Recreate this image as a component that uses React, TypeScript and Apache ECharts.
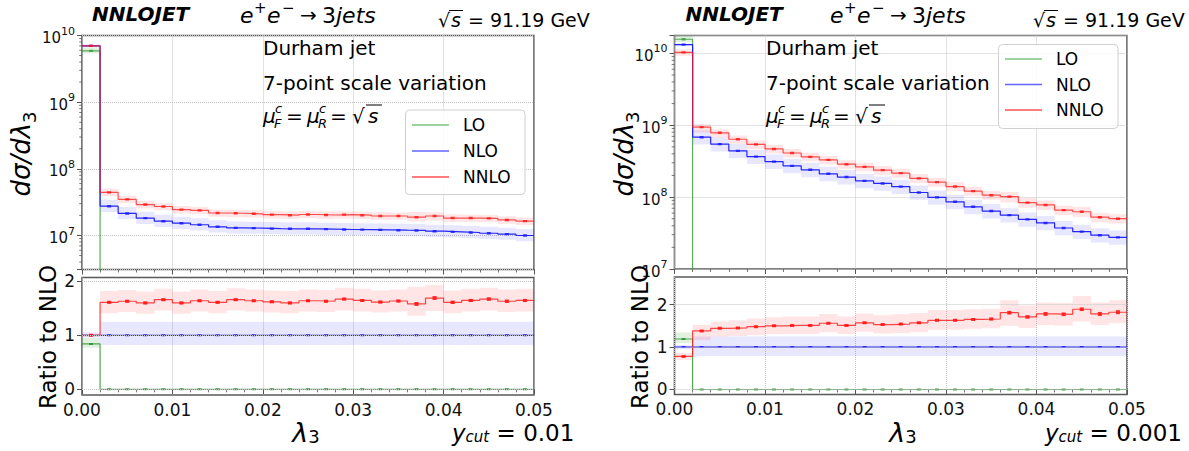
import React, { useEffect, useRef } from "react";
import * as echarts from "echarts";

const FONT = "DejaVu Sans";

// ---------- shared axes / bins ----------
const binEdges = [
  0, 0.002, 0.004, 0.006, 0.008, 0.01, 0.012, 0.014, 0.016, 0.018, 0.02, 0.022, 0.024,
  0.026, 0.028, 0.03, 0.032, 0.034, 0.036, 0.038, 0.04, 0.042, 0.044, 0.046, 0.048, 0.05,
];
const xTickLabels = ["0.00", "0.01", "0.02", "0.03", "0.04", "0.05"];
const ratioTicks = [0, 1, 2];
const logMinorMultipliers = [2, 3, 4, 5, 6, 7, 8, 9];
const logDecades = [6, 7, 8, 9, 10];
const legendLabels = ["LO", "NLO", "NNLO"];

// ---------- left panel: y_cut = 0.01 ----------
const nloL = [
  7.0e9, 2.75e7, 2.14e7, 1.82e7, 1.64e7, 1.53e7, 1.45e7, 1.35e7, 1.3e7, 1.29e7, 1.27e7, 1.26e7,
  1.26e7, 1.245e7, 1.23e7, 1.225e7, 1.215e7, 1.2e7, 1.19e7, 1.16e7, 1.135e7, 1.11e7, 1.08e7,
  1.05e7, 1.0e7,
];
const nloBandLoL = [0.96, 0.82, 0.82, 0.82, 0.82, 0.82, 0.82, 0.82, 0.82, 0.82, 0.82, 0.82, 0.82, 0.82, 0.82, 0.82, 0.82, 0.82, 0.82, 0.82, 0.82, 0.82, 0.82, 0.82, 0.82];
const nloBandHiL = [1.05, 1.25, 1.25, 1.25, 1.25, 1.25, 1.25, 1.25, 1.25, 1.25, 1.25, 1.25, 1.25, 1.25, 1.25, 1.25, 1.25, 1.25, 1.25, 1.25, 1.25, 1.25, 1.25, 1.25, 1.25];
const nnloRatioL = [
  1.0, 1.61, 1.63, 1.6, 1.66, 1.6, 1.64, 1.61, 1.66, 1.64, 1.62, 1.6, 1.64, 1.63, 1.67, 1.645,
  1.615, 1.635, 1.58, 1.69, 1.61, 1.645, 1.67, 1.63, 1.645,
];
const nnloBandHiL = [
  1.03, 1.82, 1.84, 1.81, 1.86, 1.81, 1.85, 1.82, 1.87, 1.85, 1.83, 1.82, 1.85, 1.84, 1.88, 1.86,
  1.83, 1.85, 1.9, 1.93, 1.83, 1.86, 1.88, 1.85, 1.86,
];
const nnloBandLoL = [
  0.97, 1.41, 1.43, 1.4, 1.46, 1.4, 1.44, 1.41, 1.46, 1.44, 1.42, 1.41, 1.44, 1.43, 1.46, 1.44,
  1.42, 1.44, 1.36, 1.45, 1.41, 1.44, 1.46, 1.43, 1.44,
];
const nnloErrL = [
  0.005, 0.015, 0.015, 0.015, 0.015, 0.015, 0.015, 0.015, 0.015, 0.015, 0.015, 0.015, 0.015,
  0.015, 0.015, 0.015, 0.015, 0.015, 0.025, 0.025, 0.02, 0.02, 0.02, 0.02, 0.02,
];
const loRatioL = [0.84, 0, 0, 0, 0, 0, 0, 0, 0, 0, 0, 0, 0, 0, 0, 0, 0, 0, 0, 0, 0, 0, 0, 0, 0];
const loBandLoL = [0.77];
const loBandHiL = [0.95];

// ---------- right panel: y_cut = 0.001 ----------
const nloR = [
  1.32e10, 6.81e8, 5.45e8, 4.4e8, 3.66e8, 3.12e8, 2.72e8, 2.4e8, 2.11e8, 1.9e8, 1.68e8, 1.55e8,
  1.4e8, 1.16e8, 9.9e7, 8.6e7, 7.33e7, 6.4e7, 5.62e7, 4.9e7, 4.37e7, 3.72e7, 3.31e7, 2.95e7,
  2.75e7,
];
const nloBandLoR = [0.95, 0.79, 0.79, 0.79, 0.79, 0.79, 0.79, 0.79, 0.79, 0.79, 0.79, 0.79, 0.79, 0.79, 0.79, 0.79, 0.79, 0.79, 0.79, 0.79, 0.79, 0.79, 0.79, 0.79, 0.79];
const nloBandHiR = [1.05, 1.25, 1.25, 1.25, 1.25, 1.25, 1.25, 1.25, 1.25, 1.25, 1.25, 1.25, 1.25, 1.25, 1.25, 1.25, 1.25, 1.25, 1.25, 1.25, 1.25, 1.25, 1.25, 1.25, 1.25];
const nnloRatioR = [
  0.78, 1.38, 1.44, 1.45, 1.48, 1.5, 1.51, 1.51, 1.56, 1.51, 1.57, 1.53, 1.54, 1.57, 1.63, 1.63,
  1.65, 1.66, 1.81, 1.71, 1.78, 1.77, 1.89, 1.78, 1.82,
];
const nnloBandHiR = [
  0.86, 1.52, 1.6, 1.63, 1.67, 1.7, 1.72, 1.72, 1.78, 1.72, 1.79, 1.75, 1.77, 1.8, 1.87, 1.87,
  1.89, 1.9, 2.1, 1.98, 2.05, 2.04, 2.2, 2.05, 2.1,
];
const nnloBandLoR = [
  0.7, 1.16, 1.25, 1.26, 1.28, 1.3, 1.31, 1.31, 1.35, 1.31, 1.36, 1.32, 1.33, 1.35, 1.41, 1.41,
  1.43, 1.44, 1.5, 1.45, 1.52, 1.51, 1.6, 1.52, 1.56,
];
const nnloErrR = [
  0.005, 0.01, 0.01, 0.01, 0.01, 0.01, 0.01, 0.01, 0.012, 0.012, 0.012, 0.012, 0.012, 0.015,
  0.015, 0.015, 0.015, 0.018, 0.03, 0.025, 0.03, 0.03, 0.03, 0.035, 0.035,
];
const loRatioR = [1.19, 0, 0, 0, 0, 0, 0, 0, 0, 0, 0, 0, 0, 0, 0, 0, 0, 0, 0, 0, 0, 0, 0, 0, 0];
const loBandLoR = [1.09];
const loBandHiR = [1.34];

// ---------- styling ----------
const COL = {
  lo: "#3f9f3f",
  nlo: "#1a1aff",
  nnlo: "#ff1a1a",
  loBand: "rgba(0,140,0,0.12)",
  nloBand: "rgba(40,40,255,0.11)",
  nnloBand: "rgba(255,40,40,0.12)",
  legLo: "#7cc47c",
  legNlo: "#6464ff",
  legNnlo: "#ff5050",
  frame: "#5a5a5a",
  tick: "#555",
  grid: "#c4c4c4",
  text: "#111",
};

const panels = [
  {
    gTop: 0,
    grids: [
      { left: 82, top: 35.5, width: 452, height: 234 },
      { left: 82, top: 277.5, width: 452, height: 117.5 },
    ],
    yMin: Math.pow(10, 6.49),
    yMax: 1e10,
    rMin: -0.105,
    rMax: 2.07,
    nlo: nloL, nloBandLo: nloBandLoL, nloBandHi: nloBandHiL,
    nnloRatio: nnloRatioL, nnloBandLo: nnloBandLoL, nnloBandHi: nnloBandHiL, nnloErr: nnloErrL,
    loRatio: loRatioL, loBandLo: loBandLoL, loBandHi: loBandHiL,
  },
  {
    gTop: 2,
    grids: [
      { left: 674.5, top: 35.5, width: 452.5, height: 233.5 },
      { left: 674.5, top: 277, width: 452.5, height: 117.5 },
    ],
    yMin: 1e7,
    yMax: Math.pow(10, 10.248),
    rMin: -0.118,
    rMax: 2.65,
    nlo: nloR, nloBandLo: nloBandLoR, nloBandHi: nloBandHiR,
    nnloRatio: nnloRatioR, nnloBandLo: nnloBandLoR, nnloBandHi: nnloBandHiR, nnloErr: nnloErrR,
    loRatio: loRatioR, loBandLo: loBandLoR, loBandHi: loBandHiR,
  },
];

// ---------- helpers ----------
const stepData = (vals: number[]) => {
  const pts = vals.map((v, i) => [binEdges[i], v]);
  pts.push([binEdges[vals.length], vals[vals.length - 1]]);
  return pts;
};
const center = (i: number) => (binEdges[i] + binEdges[i + 1]) / 2;

const bandSeries = (g: number, items: number[][], fill: string) => ({
  type: "custom",
  xAxisIndex: g,
  yAxisIndex: g,
  clip: true,
  silent: true,
  z: 1,
  encode: { x: [0, 1], y: [2, 3] },
  data: items,
  renderItem: (_p: any, api: any) => {
    const a = api.coord([api.value(0), api.value(3)]);
    const b = api.coord([api.value(1), api.value(2)]);
    return {
      type: "rect",
      shape: { x: a[0], y: a[1], width: b[0] - a[0], height: b[1] - a[1] },
      style: { fill },
    };
  },
});

const lineSeries = (g: number, name: string, vals: number[], color: string, opacity = 1) => ({
  type: "line",
  name,
  xAxisIndex: g,
  yAxisIndex: g,
  step: "end",
  symbol: "none",
  silent: true,
  clip: true,
  z: 2,
  lineStyle: { color, width: 1.2, opacity },
  data: stepData(vals),
});

const markerSeries = (g: number, items: number[][], color: string, w: number, h: number) => ({
  type: "custom",
  xAxisIndex: g,
  yAxisIndex: g,
  clip: true,
  silent: true,
  z: 3,
  encode: { x: 0, y: 1 },
  data: items,
  renderItem: (_p: any, api: any) => {
    const x = api.value(0);
    const y = api.value(1);
    const e = api.value(2);
    const p = api.coord([x, y]);
    const children: any[] = [
      { type: "rect", shape: { x: p[0] - w / 2, y: p[1] - h / 2, width: w, height: h }, style: { fill: color, opacity: 0.85 } },
    ];
    if (e > 0) {
      const pt = api.coord([x, y + e]);
      const pb = api.coord([x, y - e]);
      children.push(
        { type: "line", shape: { x1: p[0], y1: pt[1], x2: p[0], y2: pb[1] }, style: { stroke: color, lineWidth: 1, opacity: 0.85 } },
        { type: "line", shape: { x1: p[0] - 2, y1: pt[1], x2: p[0] + 2, y2: pt[1] }, style: { stroke: color, lineWidth: 1, opacity: 0.85 } },
        { type: "line", shape: { x1: p[0] - 2, y1: pb[1], x2: p[0] + 2, y2: pb[1] }, style: { stroke: color, lineWidth: 1, opacity: 0.85 } }
      );
    }
    return { type: "group", children };
  },
});

const minorLogSeries = (g: number, yMin: number, yMax: number) => {
  const vals: number[][] = [];
  logDecades.forEach((d) =>
    logMinorMultipliers.forEach((m) => {
      const v = m * Math.pow(10, d);
      if (v > yMin && v < yMax) vals.push([0, v]);
    })
  );
  return {
    type: "custom",
    xAxisIndex: g,
    yAxisIndex: g,
    clip: false,
    silent: true,
    z: 4,
    encode: { x: 0, y: 1 },
    data: vals,
    renderItem: (_p: any, api: any) => {
      const p = api.coord([api.value(0), api.value(1)]);
      return {
        type: "line",
        shape: { x1: p[0] - 2.8, y1: p[1], x2: p[0], y2: p[1] },
        style: { stroke: COL.tick, lineWidth: 0.8 },
      };
    },
  };
};

const xAxisCfg = (gridIndex: number, showLabels: boolean) => ({
  type: "value",
  gridIndex,
  min: 0,
  max: 0.05,
  interval: 0.01,
  axisLine: { show: false },
  axisTick: { show: true, length: 5, lineStyle: { color: COL.tick, width: 1 } },
  minorTick: { show: true, splitNumber: 5, length: 3, lineStyle: { color: COL.tick, width: 0.8 } },
  axisLabel: {
    show: showLabels,
    margin: 6,
    fontSize: 17,
    fontFamily: FONT,
    color: COL.text,
    formatter: (v: number) => xTickLabels[Math.round(v / 0.01)] ?? "",
  },
  splitLine: { show: true, lineStyle: { type: "dotted", color: COL.grid, width: 1 } },
});

const logLabel = (v: number) => {
  const l = Math.log10(v);
  const e = Math.round(l);
  if (Math.abs(l - e) > 1e-6) return "";
  return `{b|10}{s|${e}}`;
};

const yLogCfg = (gridIndex: number, min: number, max: number) => ({
  type: "log",
  logBase: 10,
  gridIndex,
  min,
  max,
  axisLine: { show: false },
  axisTick: { show: true, length: 5, lineStyle: { color: COL.tick, width: 1 } },
  axisLabel: {
    margin: 7,
    formatter: logLabel,
    rich: {
      b: { fontSize: 15, fontFamily: FONT, color: COL.text, lineHeight: 20, verticalAlign: "bottom" },
      s: { fontSize: 11, fontFamily: FONT, color: COL.text, lineHeight: 12, verticalAlign: "top" },
    },
  },
  splitLine: { show: true, lineStyle: { type: "dotted", color: COL.grid, width: 1 } },
});

const yRatioCfg = (gridIndex: number, min: number, max: number) => ({
  type: "value",
  gridIndex,
  min,
  max,
  axisLine: { show: false },
  axisTick: { show: true, length: 5, customValues: ratioTicks, lineStyle: { color: COL.tick, width: 1 } },
  axisLabel: { customValues: ratioTicks, margin: 7, fontSize: 17, fontFamily: FONT, color: COL.text },
  splitLine: { show: false },
});

// ---------- graphic helpers ----------
const txt = (x: number, y: number, text: string, size: number, o: any = {}) => ({
  type: "text",
  x,
  y,
  rotation: o.rot ?? 0,
  silent: true,
  z: 100,
  style: {
    text,
    fontSize: size,
    fontFamily: FONT,
    fontStyle: o.italic ? "italic" : "normal",
    fontWeight: o.bold ? "bold" : "normal",
    fill: o.fill ?? "#000",
    align: o.align ?? "left",
    verticalAlign: o.va ?? "middle",
    rich: o.rich,
  },
});
const seg = (x1: number, y1: number, x2: number, y2: number, stroke: string, w = 1) => ({
  type: "line",
  silent: true,
  z: 100,
  shape: { x1, y1, x2, y2 },
  style: { stroke, lineWidth: w },
});

const header = (x0: number, xe: number, xs: number) => [
  txt(x0, 14, "NNLOJET", 20, { italic: true, bold: true }),
  txt(xe, 15, "e", 22, { italic: true }),
  txt(xe + 14, 8, "+", 15),
  txt(xe + 27, 15, "e", 22, { italic: true }),
  txt(xe + 42, 8, "−", 15),
  txt(xe + 60, 15, "→", 20),
  txt(xe + 82, 15, "3", 22),
  txt(xe + 96, 15, "jets", 22, { italic: true }),
  txt(xs, 20, "√", 19),
  txt(xs + 13, 20, "s", 19, { italic: true }),
  seg(xs + 11, 10.5, xs + 25, 10.5, "#000", 1),
  txt(xs + 30, 20, "= 91.19 GeV", 19),
];

const muLine = (x0: number, y: number) => [
  txt(x0, y, "μ", 20, { italic: true }),
  txt(x0 + 12, y - 8, "c", 13, { italic: true }),
  txt(x0 + 11, y + 7, "F", 13, { italic: true }),
  txt(x0 + 23, y, "=", 20),
  txt(x0 + 44, y, "μ", 20, { italic: true }),
  txt(x0 + 56, y - 8, "c", 13, { italic: true }),
  txt(x0 + 55, y + 7, "R", 13, { italic: true }),
  txt(x0 + 67, y, "=", 20),
  txt(x0 + 89, y, "√", 20),
  txt(x0 + 105, y, "s", 20, { italic: true }),
  seg(x0 + 103, y - 11, x0 + 119, y - 11, "#000", 1),
];

const legend = (bx: number, by: number, bw: number, bh: number, lx: number, tx: number, ys: number[]) => [
  {
    type: "rect",
    silent: true,
    z: 99,
    shape: { x: bx, y: by, width: bw, height: bh, r: 4 },
    style: { fill: "rgba(255,255,255,0.85)", stroke: "#d0d0d0", lineWidth: 1 },
  },
  seg(lx, ys[0], lx + 37, ys[0], COL.legLo, 1.6),
  seg(lx, ys[1], lx + 37, ys[1], COL.legNlo, 1.6),
  seg(lx, ys[2], lx + 37, ys[2], COL.legNnlo, 1.6),
  txt(tx, ys[0], legendLabels[0], 17),
  txt(tx, ys[1], legendLabels[1], 17),
  txt(tx, ys[2], legendLabels[2], 17),
];

const axisTitles = (yl: number, rl: number, lx: number, ycx: number, ycutText: string) => [
  txt(yl, 154, "{i|dσ/dλ}{sub|3}", 26, {
    rot: Math.PI / 2,
    align: "center",
    rich: {
      i: { fontSize: 26, fontStyle: "italic", fontFamily: FONT, lineHeight: 34, verticalAlign: "middle" },
      sub: { fontSize: 18, fontFamily: FONT, lineHeight: 18, verticalAlign: "bottom" },
    },
  }),
  txt(rl, 337, "Ratio to NLO", 23, { rot: Math.PI / 2, align: "center" }),
  txt(lx, 432, "{i|λ}{sub|3}", 26, {
    align: "center",
    rich: {
      i: { fontSize: 27, fontStyle: "italic", fontFamily: FONT, lineHeight: 26, verticalAlign: "middle" },
      sub: { fontSize: 18, fontFamily: FONT, lineHeight: 14, verticalAlign: "bottom" },
    },
  }),
  txt(ycx, 433, `{i|y}{sub|cut}{n| ${ycutText}}`, 22, {
    rich: {
      i: { fontSize: 23, fontStyle: "italic", fontFamily: FONT, lineHeight: 22, verticalAlign: "middle" },
      sub: { fontSize: 15, fontStyle: "italic", fontFamily: FONT, lineHeight: 11, verticalAlign: "bottom" },
      n: { fontSize: 23, fontFamily: FONT, lineHeight: 22, verticalAlign: "middle" },
    },
  }),
];

const buildOption = () => {
  const grid: any[] = [];
  const xAxis: any[] = [];
  const yAxis: any[] = [];
  const series: any[] = [];

  panels.forEach((P) => {
    const gT = P.gTop;
    const gR = P.gTop + 1;
    P.grids.forEach((gr) =>
      grid.push({ ...gr, show: true, borderColor: COL.frame, borderWidth: 1.6, backgroundColor: "transparent" })
    );
    xAxis.push(xAxisCfg(gT, false), xAxisCfg(gR, true));
    yAxis.push(yLogCfg(gT, P.yMin, P.yMax), yRatioCfg(gR, P.rMin, P.rMax));

    const nnloAbs = P.nlo.map((v, i) => v * P.nnloRatio[i]);
    const loAbs = P.nlo.map((v, i) => (P.loRatio[i] > 0 ? v * P.loRatio[i] : 1));
    const nloRatio = P.nlo.map((v) => v / v);

    const bandItems = (lo: number[], hi: number[], scale: boolean) =>
      lo.map((l, i) => [binEdges[i], binEdges[i + 1], scale ? l * P.nlo[i] : l, scale ? hi[i] * P.nlo[i] : hi[i]]);

    // ---- top panel ----
    series.push(
      bandSeries(gT, bandItems(P.loBandLo, P.loBandHi, true), COL.loBand),
      bandSeries(gT, bandItems(P.nloBandLo, P.nloBandHi, true), COL.nloBand),
      bandSeries(gT, bandItems(P.nnloBandLo, P.nnloBandHi, true), COL.nnloBand),
      lineSeries(gT, "LO", loAbs, COL.lo, 0.85),
      lineSeries(gT, "NLO", P.nlo, COL.nlo, 0.95),
      lineSeries(gT, "NNLO", nnloAbs, COL.nnlo, 0.75),
      markerSeries(gT, P.nlo.map((v, i) => [center(i), v, 0]), COL.nlo, 4, 2.4),
      markerSeries(gT, nnloAbs.map((v, i) => [center(i), v, 0]), COL.nnlo, 4, 2.4),
      markerSeries(gT, loAbs.map((v, i) => [center(i), v, 0]).filter((d) => d[1] > 1), COL.lo, 4, 2.4),
      minorLogSeries(gT, P.yMin, P.yMax)
    );

    // ---- ratio panel ----
    series.push(
      {
        type: "line",
        xAxisIndex: gR,
        yAxisIndex: gR,
        data: [],
        silent: true,
        z: 1,
        markLine: {
          silent: true,
          symbol: "none",
          label: { show: false },
          lineStyle: { type: "dotted", color: COL.grid, width: 1 },
          data: ratioTicks.map((t) => ({ yAxis: t })),
        },
      },
      bandSeries(gR, bandItems(P.loBandLo, P.loBandHi, false), COL.loBand),
      bandSeries(gR, bandItems(P.nloBandLo, P.nloBandHi, false), COL.nloBand),
      bandSeries(gR, bandItems(P.nnloBandLo, P.nnloBandHi, false), COL.nnloBand),
      lineSeries(gR, "LO", P.loRatio, COL.lo, 0.9),
      lineSeries(gR, "NLO", nloRatio, COL.nlo, 0.95),
      lineSeries(gR, "NNLO", P.nnloRatio, COL.nnlo, 0.8),
      markerSeries(gR, P.loRatio.map((v, i) => [center(i), v, 0]), "#2e8b2e", 4, 2),
      markerSeries(gR, nloRatio.map((v, i) => [center(i), v, 0]), COL.nlo, 4, 2),
      markerSeries(gR, P.nnloRatio.map((v, i) => [center(i), v, P.nnloErr[i]]), COL.nnlo, 4, 3)
    );
  });

  const graphic: any[] = [
    ...header(92, 240, 438),
    ...header(685.5, 830, 1033),
    txt(263, 48, "Durham jet", 20),
    txt(263, 83, "7-point scale variation", 20),
    ...muLine(263, 116),
    txt(766, 48, "Durham jet", 20),
    txt(766, 83, "7-point scale variation", 20),
    ...muLine(766, 116),
    ...legend(405.5, 110, 119.5, 84.5, 412, 463, [125, 151, 177]),
    ...legend(998.5, 44.5, 119.5, 84, 1005, 1056, [59, 84.5, 110]),
    ...axisTitles(21, 48, 306, 452, "= 0.01"),
    ...axisTitles(624, 640, 903, 1045, "= 0.001"),
  ];

  return {
    animation: false,
    backgroundColor: "#ffffff",
    grid,
    xAxis,
    yAxis,
    series,
    graphic,
  };
};

export default function App() {
  const ref = useRef<HTMLDivElement>(null);
  useEffect(() => {
    if (!ref.current) return;
    const chart = echarts.init(ref.current, undefined, { renderer: "svg" });
    chart.setOption(buildOption() as any);
    return () => chart.dispose();
  }, []);
  return (
    <div
      ref={ref}
      style={{ position: "absolute", left: 0, top: 0, width: 1189, height: 451, background: "#fff" }}
    />
  );
}
